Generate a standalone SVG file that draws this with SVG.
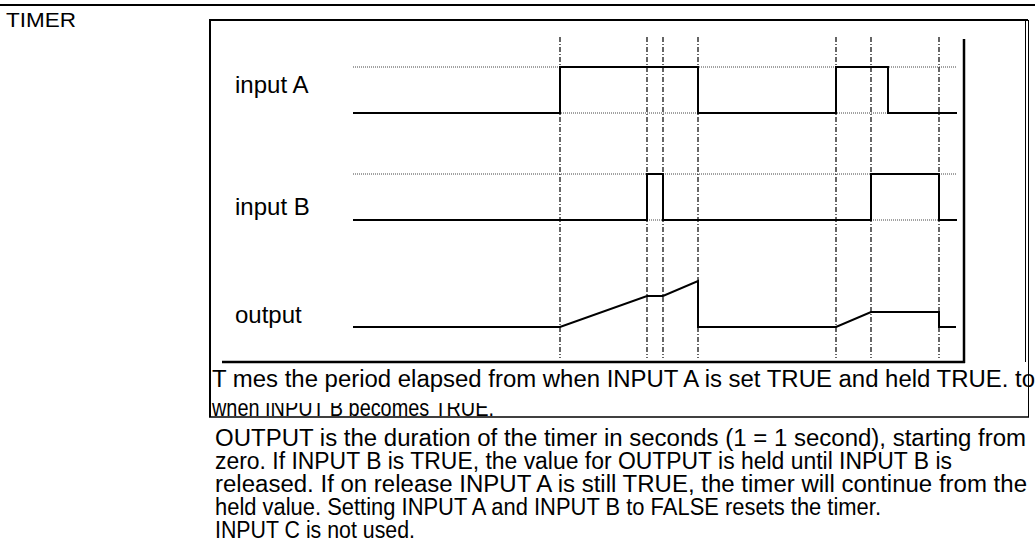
<svg xmlns="http://www.w3.org/2000/svg" width="1035" height="559" viewBox="0 0 1035 559">
<style>
text{font-family:"Liberation Sans",Arial,sans-serif;fill:#000}
.lbl{font-size:24px}
.desc{font-size:23px}
.frame{stroke:#000;fill:none}
.sig{stroke:#000;stroke-width:2;fill:none}
.ref{stroke:#444;stroke-width:1;stroke-dasharray:1 1;fill:none}
.tick{stroke:#000;stroke-width:1.2;stroke-dasharray:5 2 1 2;fill:none}
</style>
<defs>
<clipPath id="cl2"><rect x="205" y="403" width="830" height="14"/></clipPath>
<clipPath id="cl1"><rect x="0" y="0" width="1035" height="559"/></clipPath>
</defs>
<rect width="1035" height="559" fill="#fff"/>
<line x1="0" y1="5" x2="1035" y2="5" stroke="#000" stroke-width="2"/>
<text id="title" x="6" y="27" font-size="21" textLength="70" lengthAdjust="spacingAndGlyphs">TIMER</text>
<g id="frame">
<line class="frame" x1="209" y1="20" x2="1028" y2="20" stroke-width="2"/>
<line class="frame" x1="210" y1="20" x2="210" y2="417" stroke-width="2"/>
<line class="frame" x1="1028.5" y1="20" x2="1028.5" y2="417" stroke-width="1"/>
<line class="frame" x1="1025.5" y1="20" x2="1025.5" y2="362" stroke-width="1"/>
<line class="frame" x1="209" y1="417" x2="1029" y2="417" stroke-width="1.5"/>
<line class="frame" x1="964" y1="39" x2="964" y2="363" stroke-width="2.5"/>
<line class="frame" x1="222" y1="362" x2="965" y2="362" stroke-width="2.5"/>
</g>
<g id="reflines">
<line class="ref" x1="353" y1="67" x2="957" y2="67"/>
<line class="ref" x1="353" y1="113" x2="957" y2="113"/>
<line class="ref" x1="353" y1="174" x2="957" y2="174"/>
<line class="ref" x1="353" y1="220" x2="957" y2="220"/>
</g>
<g id="ticks">
<line class="tick" x1="560" y1="37" x2="560" y2="358"/>
<line class="tick" x1="647" y1="37" x2="647" y2="358"/>
<line class="tick" x1="663" y1="37" x2="663" y2="358"/>
<line class="tick" x1="698" y1="37" x2="698" y2="358"/>
<line class="tick" x1="836" y1="37" x2="836" y2="358"/>
<line class="tick" x1="871" y1="37" x2="871" y2="358"/>
<line class="tick" x1="939" y1="37" x2="939" y2="358"/>
</g>
<g id="inputA">
<text class="lbl" x="235" y="93">input A</text>
<polyline class="sig" points="353,113 560,113 560,67 698,67 698,113 836,113 836,67 888,67 888,113 957,113"/>
</g>
<g id="inputB">
<text class="lbl" x="235" y="215">input B</text>
<polyline class="sig" points="353,220 647,220 647,174 663,174 663,220 871,220 871,174 939,174 939,220 957,220"/>
</g>
<g id="output">
<text class="lbl" x="235" y="323">output</text>
<polyline class="sig" stroke-width="1.6" points="353,327 560,327 647,296 663,296 698,281 698,327 836,327 871,312 939,312 939,327 956,327"/>
</g>
<g id="description">
<text class="desc" x="212" y="387" textLength="823" lengthAdjust="spacingAndGlyphs" clip-path="url(#cl1)">T mes the period elapsed from when INPUT A is set TRUE and held TRUE. to</text>
<text class="desc" x="212" y="416" textLength="282" lengthAdjust="spacingAndGlyphs" clip-path="url(#cl2)">when INPUT B becomes TRUE.</text>
<text class="desc" x="215" y="446" textLength="811" lengthAdjust="spacingAndGlyphs">OUTPUT is the duration of the timer in seconds (1 = 1 second), starting from</text>
<text class="desc" x="215" y="469" textLength="737" lengthAdjust="spacingAndGlyphs">zero. If INPUT B is TRUE, the value for OUTPUT is held until INPUT B is</text>
<text class="desc" x="215" y="492" textLength="812" lengthAdjust="spacingAndGlyphs">released. If on release INPUT A is still TRUE, the timer will continue from the</text>
<text class="desc" x="215" y="515" textLength="666" lengthAdjust="spacingAndGlyphs">held value. Setting INPUT A and INPUT B to FALSE resets the timer.</text>
<text class="desc" x="215" y="538" textLength="200" lengthAdjust="spacingAndGlyphs">INPUT C is not used.</text>
</g>
</svg>
